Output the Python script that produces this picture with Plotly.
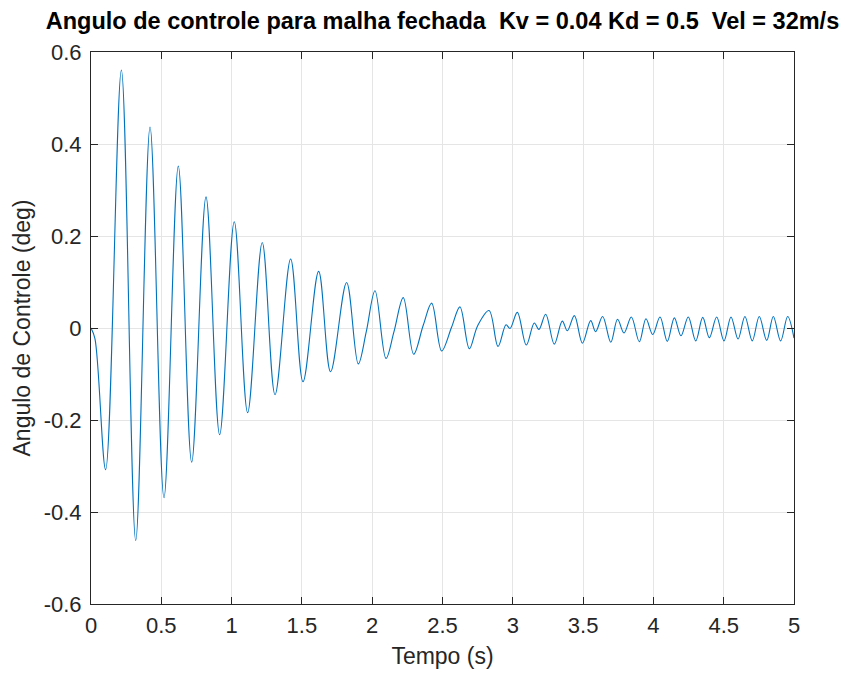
import plotly.graph_objects as go

# Extrema / key points (time s, angle deg)
tempo = [0.0, 0.028, 0.104, 0.216, 0.318, 0.420, 0.519, 0.621, 0.716, 0.818, 0.915,
         1.019, 1.114, 1.218, 1.309, 1.420, 1.508, 1.619, 1.704, 1.818, 1.901,
         1.958, 2.020, 2.098, 2.155, 2.221, 2.295, 2.363, 2.423, 2.494, 2.565,
         2.624, 2.691, 2.750, 2.831, 2.895, 2.952, 2.980, 3.032, 3.096, 3.153,
         3.186, 3.234, 3.295, 3.352, 3.388, 3.438, 3.495, 3.554, 3.589, 3.639,
         3.697, 3.745, 3.791, 3.843, 3.900, 3.947, 3.995, 4.047, 4.099, 4.149,
         4.196, 4.248, 4.301, 4.351, 4.398, 4.450, 4.502, 4.552, 4.602, 4.651,
         4.703, 4.753, 4.806, 4.853, 4.905, 4.955, 5.0]
angulo = [0.0, -0.023, -0.308, 0.561, -0.462, 0.437, -0.369, 0.352, -0.292, 0.285, -0.232,
          0.231, -0.184, 0.186, -0.145, 0.150, -0.117, 0.123, -0.095, 0.099, -0.078,
          -0.008, 0.081, -0.066, -0.008, 0.066, -0.057, 0.006, 0.054, -0.050, 0.002,
          0.046, -0.045, 0.005, 0.038, -0.040, 0.007, -0.001, 0.034, -0.037, 0.011,
          -0.003, 0.030, -0.035, 0.015, -0.006, 0.027, -0.033, 0.016, -0.008, 0.025,
          -0.031, 0.019, -0.011, 0.024, -0.030, 0.020, -0.014, 0.024, -0.029, 0.022,
          -0.017, 0.024, -0.028, 0.023, -0.021, 0.024, -0.028, 0.024, -0.024, 0.025,
          -0.028, 0.025, -0.027, 0.025, -0.028, 0.025, -0.022]

x_ticks = [0, 0.5, 1, 1.5, 2, 2.5, 3, 3.5, 4, 4.5, 5]
x_tick_text = ["0", "0.5", "1", "1.5", "2", "2.5", "3", "3.5", "4", "4.5", "5"]
y_ticks = [-0.6, -0.4, -0.2, 0, 0.2, 0.4, 0.6]
y_tick_text = ["-0.6", "-0.4", "-0.2", "0", "0.2", "0.4", "0.6"]

titulo = "Angulo de controle para malha fechada  Kv = 0.04 Kd = 0.5  Vel = 32m/s"
FONT = "Liberation Sans, Arial, sans-serif"

fig = go.Figure()
fig.add_trace(go.Scatter(
    x=tempo, y=angulo, mode="lines",
    line=dict(color="#0072BD", width=1.1, shape="spline", smoothing=1.0),
    showlegend=False, hoverinfo="skip",
))

axis_common = dict(
    showline=True, linecolor="#262626", linewidth=1, mirror="ticks",
    ticks="inside", ticklen=7, tickcolor="#262626", tickwidth=1,
    showgrid=True, gridcolor="#e5e5e5", gridwidth=1,
    zeroline=False,
    tickfont=dict(family=FONT, size=22, color="#262626"),
)

fig.update_layout(
    width=845, height=677,
    margin=dict(l=91, r=51, t=52, b=70),
    paper_bgcolor="white", plot_bgcolor="white",
    title=dict(text="<b>" + titulo + "</b>", x=0.5, xref="paper", xanchor="center",
               y=1 - 21 / 677, yref="container", yanchor="middle",
               font=dict(family=FONT, size=23.5, color="black")),
    xaxis=dict(range=[0, 5], tickvals=x_ticks, ticktext=x_tick_text,
               ticklabelstandoff=2,
               title=dict(text="Tempo (s)", standoff=10,
                          font=dict(family=FONT, size=23, color="#262626")),
               **axis_common),
    yaxis=dict(range=[-0.6, 0.6], tickvals=y_ticks, ticktext=y_tick_text,
               ticklabelstandoff=4,
               title=dict(text="Angulo de Controle (deg)", standoff=6,
                          font=dict(family=FONT, size=23, color="#262626")),
               **axis_common),
)

fig.write_html("out.html")
